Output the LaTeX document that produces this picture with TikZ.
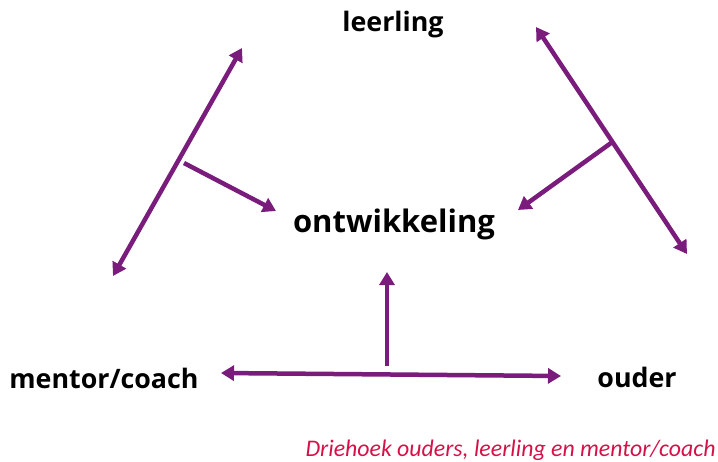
\documentclass[tikz,border=0pt]{standalone}
\usepackage{fontspec}
\setmainfont{Carlito}
\newfontfamily\kopfont{Open Sans}
\usepackage{tikz}
\usetikzlibrary{arrows.meta}

\definecolor{paars}{RGB}{122,28,124}
\definecolor{rood}{RGB}{212,18,72}

\tikzset{
  pijl/.style={draw=paars, line width=4.5pt, -{Triangle[length=13pt,width=15pt]}},
  dubbelpijl/.style={pijl, {Triangle[length=13pt,width=15pt]}-{Triangle[length=13pt,width=15pt]}},
  rol/.style={font=\kopfont\bfseries\fontsize{26.8}{30}\selectfont, anchor=base}
}

\begin{document}
\begin{tikzpicture}[x=1pt,y=-1pt]
    \useasboundingbox (0,0) rectangle (718,461);
    % rollen
    \node[rol] (leerling) at (393,31) {leerling};
    \node[rol] (mentor) at (104,388) {mentor/coach};
    \node[rol] (ouder) at (637,387) {ouder};
    \node[anchor=base, font=\kopfont\bfseries\fontsize{31}{36}\selectfont] (ontw) at (394,232) {ontwikkeling};
    \node[anchor=base east, text=rood, font=\itshape\fontsize{23.8}{27}\selectfont] (bijschrift) at (719,456) {Driehoek ouders, leerling en mentor/coach};
    % punten van de pijlen
    \coordinate (l1) at (113,276);
    \coordinate (l2) at (242,48);
    \coordinate (lm) at (184,163);
    \coordinate (lt) at (276,211);
    \coordinate (r1) at (536,27);
    \coordinate (r2) at (687,254);
    \coordinate (rm) at (611,143);
    \coordinate (rt) at (518,210);
    \coordinate (o1) at (221,373);
    \coordinate (o2) at (561,376);
    \coordinate (om) at (387,366);
    \coordinate (ot) at (387,272);
    % pijlen
    \draw[dubbelpijl] (l1) -- (l2);
    \draw[pijl] (lm) -- (lt);
    \draw[dubbelpijl] (r1) -- (r2);
    \draw[pijl] (rm) -- (rt);
    \draw[dubbelpijl] (o1) -- (o2);
    \draw[pijl] (om) -- (ot);
  \end{tikzpicture}
\end{document}
